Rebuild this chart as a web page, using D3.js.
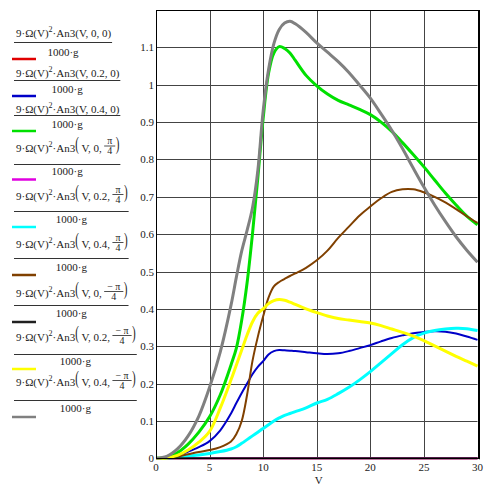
<!DOCTYPE html>
<html>
<head>
<meta charset="utf-8">
<script src="https://cdn.jsdelivr.net/npm/d3@7"></script>
<style>
  body { margin: 0; background: #fff; }
  svg { display: block; }
</style>
</head>
<body>
<svg id="chart" width="487" height="485" font-family="Liberation Serif" fill="#222"></svg>
<script>
// speed V and the nine traces
const V = [0,1,2,3,4,5,6,7,7.5,8,8.5,9,9.5,10,10.5,11,11.5,12,12.5,13,14,15,16,17,18,19,20,21,22,23,24,25,26,27,28,29,30]

const red     = [0,0,0,0,0,0,0,0,0,0,0,0,0,0,0,0,0,0,0,0,0,0,0,0,0,0,0,0,0,0,0,0,0,0,0,0,0]
const blue    = [0,0.002,0.008,0.018,0.03,0.046,0.075,0.12,0.148,0.175,0.2,0.225,0.245,0.26,0.278,0.287,0.29,0.289,0.288,0.287,0.284,0.281,0.279,0.281,0.287,0.295,0.303,0.313,0.322,0.329,0.335,0.338,0.34,0.339,0.334,0.326,0.317]
const green   = [0,0.003,0.015,0.038,0.07,0.111,0.17,0.25,0.295,0.37,0.47,0.6,0.75,0.91,1.03,1.085,1.102,1.097,1.085,1.065,1.025,0.997,0.975,0.958,0.946,0.934,0.92,0.9,0.875,0.845,0.813,0.78,0.745,0.71,0.678,0.648,0.625]
const magenta = [0,0,0,0,0,0,0,0,0,0,0,0,0,0,0,0,0,0,0,0,0,0,0,0,0,0,0,0,0,0,0,0,0,0,0,0,0]
const cyan    = [0,0.001,0.003,0.006,0.009,0.013,0.018,0.025,0.031,0.04,0.05,0.06,0.07,0.08,0.09,0.1,0.108,0.115,0.12,0.125,0.135,0.148,0.158,0.173,0.19,0.21,0.232,0.256,0.28,0.304,0.323,0.335,0.342,0.346,0.348,0.347,0.342]
const brown   = [0,0.001,0.005,0.011,0.017,0.022,0.03,0.045,0.065,0.1,0.17,0.26,0.325,0.38,0.43,0.46,0.472,0.48,0.488,0.495,0.51,0.53,0.556,0.59,0.62,0.65,0.674,0.696,0.713,0.72,0.72,0.712,0.7,0.685,0.667,0.648,0.63]
const black   = [0,0,0,0,0,0,0,0,0,0,0,0,0,0,0,0,0,0,0,0,0,0,0,0,0,0,0,0,0,0,0,0,0,0,0,0,0]
const yellow  = [0,0.001,0.008,0.022,0.043,0.072,0.135,0.21,0.25,0.29,0.33,0.365,0.388,0.4,0.414,0.422,0.425,0.423,0.418,0.412,0.4,0.39,0.381,0.374,0.37,0.366,0.362,0.355,0.346,0.337,0.327,0.315,0.301,0.287,0.273,0.26,0.247]
const gray    = [0,0.005,0.025,0.06,0.113,0.19,0.285,0.41,0.485,0.555,0.61,0.67,0.77,0.93,1.04,1.11,1.148,1.165,1.17,1.163,1.14,1.112,1.087,1.062,1.033,0.999,0.964,0.922,0.878,0.829,0.777,0.726,0.678,0.634,0.593,0.557,0.525]

const traces = [red, blue, green, magenta, cyan, brown, black, yellow, gray]
const traceColors = ['#e00000', '#0000c8', '#00e000', '#e000e0', '#00ffff', '#804000', '#202020', '#ffff00', '#808080']
const traceWidths = [2, 2, 3, 2, 3, 2, 2, 3, 3]
// legend arguments: second arg and the angle numerator (null = 0)
const legendArgs = ['0', '0.2', '0.4', '0', '0.2', '0.4', '0', '0.2', '0.4']
const legendAngle = [null, null, null, 'π', 'π', 'π', '− π', '− π', '− π']

const xTicks = [0, 5, 10, 15, 20, 25, 30]
const yTicks = [0, 0.1, 0.2, 0.3, 0.4, 0.5, 0.6, 0.7, 0.8, 0.9, 1, 1.1]

const svg = d3.select('#chart')

const x = d3.scaleLinear().domain([0, 30]).range([156, 477.5])
const y = d3.scaleLinear().domain([0, 1.2]).range([458.3, 10])

// grid
const grid = svg.append('g')
grid.selectAll('.vg')
    .data(xTicks.slice(1, -1))
    .join('line')
    .attr('x1', d => Math.round(x(d)) + 0.5)
    .attr('x2', d => Math.round(x(d)) + 0.5)
    .attr('y1', y(1.2))
    .attr('y2', y(0))
    .attr('stroke', '#444')
grid.selectAll('.hg')
    .data(yTicks.slice(1))
    .join('line')
    .attr('y1', d => Math.round(y(d)) + 0.5)
    .attr('y2', d => Math.round(y(d)) + 0.5)
    .attr('x1', x(0))
    .attr('x2', x(30))
    .attr('stroke', '#444')

// traces
const line = d3.line()
    .x((d, i) => x(V[i]))
    .y(d => y(d))
    .curve(d3.curveCatmullRom.alpha(0.5))

svg.append('g')
    .selectAll('path')
    .data(traces)
    .join('path')
    .attr('d', d => line(d))
    .attr('fill', 'none')
    .attr('stroke', (d, i) => traceColors[i])
    .attr('stroke-width', (d, i) => traceWidths[i])
    .attr('stroke-linejoin', 'round')

// frame
svg.append('rect')
    .attr('x', Math.round(x(0)) + 0.5)
    .attr('y', Math.round(y(1.2)) + 0.5)
    .attr('width', Math.round(x(30)) - Math.round(x(0)))
    .attr('height', Math.round(y(0)) - Math.round(y(1.2)))
    .attr('fill', 'none')
    .attr('stroke', '#000')
svg.append('line')
    .attr('x1', Math.round(x(30)) + 1.5).attr('x2', Math.round(x(30)) + 1.5)
    .attr('y1', y(1.2)).attr('y2', y(0) + 1)
    .attr('stroke', '#000')

// axes labels
svg.append('g')
    .selectAll('text')
    .data(yTicks)
    .join('text')
    .attr('x', x(0) - 2)
    .attr('y', d => y(d) + 4)
    .attr('text-anchor', 'end')
    .attr('font-size', 11)
    .text(d => d)
svg.append('g')
    .selectAll('text')
    .data(xTicks)
    .join('text')
    .attr('x', d => x(d))
    .attr('y', y(0) + 13)
    .attr('text-anchor', 'middle')
    .attr('font-size', 11)
    .text(d => d)
svg.append('text')
    .attr('x', x(15) + 2)
    .attr('y', y(0) + 26)
    .attr('text-anchor', 'middle')
    .attr('font-size', 11)
    .text('V')

// legend
const numBase = [37, 77, 113, 151.5, 200, 248, 297, 341, 386]
const barY    = [42.5, 80.5, 115.5, 164.5, 211.5, 258.5, 305.5, 354.5, 400.5]
const denBase = [56, 93, 128, 175, 223, 271, 317, 365, 412]
const keyY    = [59, 96, 131, 179.5, 227, 275, 322, 369, 417]

const legend = svg.append('g')
const fs = 11
traces.forEach((t, i) => {
    const g = legend.append('g')
    let cx = 16
    const base = numBase[i]
    const put = (str, opts = {}) => {
        const tx = g.append('text')
            .attr('x', cx)
            .attr('y', base + (opts.dy || 0))
            .attr('font-size', opts.size || fs)
            .text(str)
        if (opts.scaleY) {
            tx.attr('transform', `translate(0,${base}) scale(1,${opts.scaleY}) translate(0,${-base})`)
        }
        cx += tx.node().getComputedTextLength() + (opts.gap || 0)
        return tx
    }
    put('9·Ω(V)')
    put('2', { size: 8, dy: -5 })
    put('·An3')
    if (legendAngle[i] === null) {
        put(`(V, ${legendArgs[i]}, 0)`)
    } else {
        put('(', { size: 11, scaleY: 1.75, dy: -1, gap: 2.5 })
        put(`V, ${legendArgs[i]},`, { gap: 2.5 })
        // small fraction
        const top = g.append('text')
            .attr('y', base - 7.5)
            .attr('font-size', 10)
            .attr('text-anchor', 'middle')
            .text(legendAngle[i])
        const w = top.node().getComputedTextLength() + 6
        top.attr('x', cx + w / 2)
        g.append('line')
            .attr('x1', cx).attr('x2', cx + w)
            .attr('y1', base - 5.5).attr('y2', base - 5.5)
            .attr('stroke', '#222').attr('stroke-width', 0.8)
        g.append('text')
            .attr('x', cx + w / 2)
            .attr('y', base + 2.5)
            .attr('font-size', 10)
            .attr('text-anchor', 'middle')
            .text('4')
        cx += w + 0.5
        put(')', { size: 11, scaleY: 1.75, dy: -1 })
    }
    const right = cx + 1
    g.append('line')
        .attr('x1', 14).attr('x2', right)
        .attr('y1', barY[i]).attr('y2', barY[i])
        .attr('stroke', '#333')
    g.append('text')
        .attr('x', (14 + right) / 2)
        .attr('y', denBase[i])
        .attr('font-size', fs)
        .attr('text-anchor', 'middle')
        .text('1000·g')
    g.append('line')
        .attr('x1', 12).attr('x2', 36)
        .attr('y1', keyY[i]).attr('y2', keyY[i])
        .attr('stroke', traceColors[i])
        .attr('stroke-width', 2.5)
})
</script>
</body>
</html>
